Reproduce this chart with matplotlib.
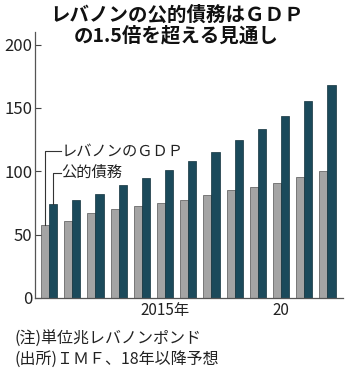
import matplotlib
matplotlib.use("Agg")
import matplotlib.pyplot as plt
import numpy as np

plt.rcParams['font.family'] = ['Noto Sans CJK JP', 'DejaVu Sans']

# Data (trillion Lebanese pounds), 2010-2022
years = list(range(2010, 2023))
gdp = [58, 60.5, 67, 70.5, 73, 75, 77, 81, 85, 88, 91, 95.5, 100]
debt = [74, 77.5, 82, 89, 94.5, 101, 108.5, 115.5, 124.5, 133.5, 144, 155.5, 168]
tick_years = [2015, 2020]
tick_labels = ['2015年', '20']

gray = '#a4a4a4'
navy = '#1b4a5b'

fig = plt.figure(figsize=(3.53, 3.73), dpi=100)
ax = fig.add_axes([0.0992, 0.2011, 0.8725, 0.7131])

x = np.arange(len(years))
w = 0.35
ax.bar(x - w / 2, gdp, width=w, color=gray, edgecolor='#555555', linewidth=0.5)
ax.bar(x + w / 2, debt, width=w, color=navy, edgecolor='#12323d', linewidth=0.5)

ax.set_xlim(-0.603, 12.67)
ax.set_ylim(0, 210)
ax.set_yticks([0, 50, 100, 150, 200])
ax.set_xticks([years.index(y) for y in tick_years])
ax.set_xticklabels(tick_labels)
ax.tick_params(axis='y', direction='in', length=4, width=0.8, colors='#444444',
               labelsize=12, labelcolor='#222222', pad=2)
ax.tick_params(axis='x', length=0, labelsize=11, labelcolor='#222222', pad=3)
for lbl in ax.get_yticklabels():
    lbl.set_family(['Liberation Sans Narrow', 'Noto Sans CJK JP'])

for s in ['top', 'right']:
    ax.spines[s].set_visible(False)
for s in ['left', 'bottom']:
    ax.spines[s].set_color('#555555')
    ax.spines[s].set_linewidth(0.9)

# Leader lines with labels
gx = 0 - w / 2
dx = 0 + w / 2
ax.plot([gx, gx, 0.5], [gdp[0], 116, 116], color='#333333', lw=0.8, clip_on=False)
ax.plot([dx, dx, 0.5], [debt[0], 99, 99], color='#333333', lw=0.8, clip_on=False)
ax.text(0.53, 116, 'レバノンのＧＤＰ', fontsize=11, va='center', ha='left', color='#222222')
ax.text(0.53, 99, '公的債務', fontsize=11, va='center', ha='left', color='#222222')

# Title
fig.text(0.5, 0.958, 'レバノンの公的債務はＧＤＰ', fontsize=14, fontweight='bold',
         ha='center', va='center', color='#111111')
fig.text(0.5, 0.905, 'の1.5倍を超える見通し', fontsize=14, fontweight='bold',
         ha='center', va='center', color='#111111')

# Notes
fig.text(0.04, (373 - 339) / 373, '(注)単位兆レバノンポンド', fontsize=11.5,
         ha='left', va='center', color='#222222')
fig.text(0.04, (373 - 359) / 373, '(出所)ＩＭＦ、18年以降予想', fontsize=11.5,
         ha='left', va='center', color='#222222')

fig.savefig('out.png', dpi=100)
